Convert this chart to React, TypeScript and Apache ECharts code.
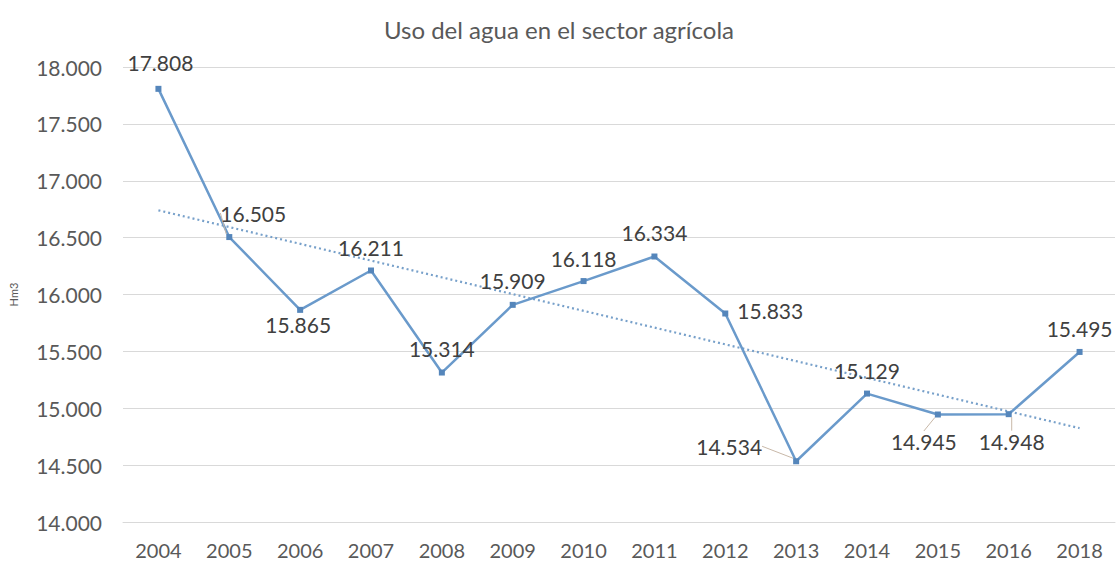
import React, { useEffect, useRef } from "react";
import * as echarts from "echarts";

const titleText = "Uso del agua en el sector agrícola";
const yAxisName = "Hm3";
const years = ["2004", "2005", "2006", "2007", "2008", "2009", "2010", "2011", "2012", "2013", "2014", "2015", "2016", "2018"];
const usage = [17808, 16505, 15865, 16211, 15314, 15909, 16118, 16334, 15833, 14534, 15129, 14945, 14948, 15495];
// linear trend line endpoints (first and last category)
const trendStart = 16740;
const trendEnd = 14825;
const yMin = 14000;
const yMax = 18000;
const yStep = 500;

// layout: label offsets (dx, dy) relative to point, and which labels have leader lines
const labelOffsets: [number, number][] = [
  [2, -26], [24, -24], [-2, 15], [0, -23], [0, -24], [0, -24], [0, -23],
  [0, -24], [45, -3], [-67, -15], [0, -23], [-14, 27], [3, 27], [0, -23],
];
const leaderLines = [false, true, false, false, false, false, false, false, false, true, false, true, true, false];

const fmt = (v: number) => {
  const s = Math.round(v).toString();
  return s.replace(/\B(?=(\d{3})+(?!\d))/g, ".");
};

const FONT = "Lato, 'Open Sans', sans-serif";

export default function App() {
  const ref = useRef<HTMLDivElement>(null);
  useEffect(() => {
    if (!ref.current) return;
    const chart = echarts.init(ref.current, undefined, { renderer: "svg" });
    const trendData = years.map((_, i) => (i === 0 ? trendStart : i === years.length - 1 ? trendEnd : null));
    chart.setOption({
      animation: false,
      backgroundColor: "#ffffff",
      textStyle: { fontFamily: FONT },
      title: {
        text: titleText,
        left: "center",
        top: 12,
        textStyle: { fontFamily: FONT, fontSize: 24, fontWeight: "normal", color: "#595959" },
      },
      grid: { left: 121, right: 3, top: 67, bottom: 40, containLabel: false },
      xAxis: {
        type: "category",
        data: years,
        boundaryGap: true,
        axisLine: { show: true, lineStyle: { color: "#d9d9d9", width: 1 } },
        axisTick: { show: false },
        axisLabel: { fontFamily: FONT, fontSize: 20, color: "#595959", margin: 18 },
        splitLine: { show: false },
      },
      yAxis: {
        type: "value",
        min: yMin,
        max: yMax,
        interval: yStep,
        name: yAxisName,
        nameLocation: "middle",
        nameRotate: 90,
        nameGap: 104,
        nameTextStyle: { fontFamily: FONT, fontSize: 11, color: "#595959" },
        axisLine: { show: false },
        axisTick: { show: false },
        axisLabel: { fontFamily: FONT, fontSize: 21, color: "#595959", margin: 21, formatter: (v: number) => fmt(v) },
        splitLine: { show: true, lineStyle: { color: "#d9d9d9", width: 1 } },
      },
      series: [
        {
          type: "line",
          name: "trend",
          data: trendData,
          connectNulls: true,
          showSymbol: false,
          symbol: "none",
          lineStyle: { color: "#77a0ca", width: 2.2, type: [2, 3] },
          z: 1,
          silent: true,
        },
        {
          type: "line",
          name: "uso",
          data: usage.map((v, i) => ({
            value: v,
            labelLine: { show: leaderLines[i] },
          })),
          symbol: "rect",
          symbolSize: 6,
          itemStyle: { color: "#5586bb" },
          lineStyle: { color: "#6a9acb", width: 2.5 },
          z: 2,
          label: {
            show: true,
            position: "inside",
            fontFamily: FONT,
            fontSize: 21,
            color: "#404040",
            formatter: (p: any) => fmt(p.value),
          },
          labelLine: { show: false, lineStyle: { color: "#c8b8a8", width: 1 }, length2: 0 },
          labelLayout: (p: any) => {
            const o = labelOffsets[p.dataIndex] || [0, 0];
            return { dx: o[0], dy: o[1] };
          },
        },
      ],
    });
    return () => chart.dispose();
  }, []);
  return <div ref={ref} style={{ position: "absolute", left: 0, top: 0, width: 1118, height: 562 }} />;
}
